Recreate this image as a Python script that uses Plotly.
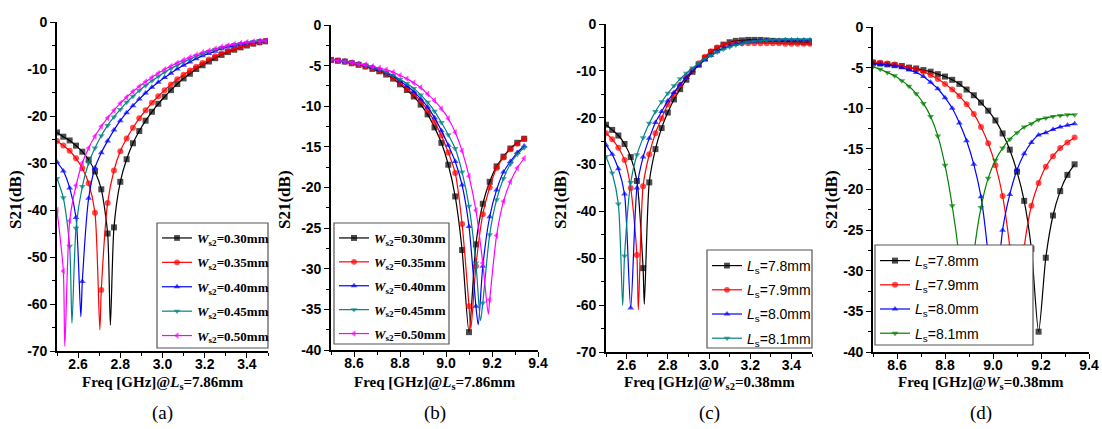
import plotly.graph_objects as go

W, H = 1102, 429

# ---------------- data ----------------
# (a) S21 vs freq for several Ws2 (Ls = 7.86 mm)
freq_a = [2.50, 2.53, 2.56, 2.59, 2.62, 2.65, 2.68, 2.71, 2.74, 2.77,
          2.80, 2.83, 2.86, 2.89, 2.92, 2.95, 2.98, 3.01, 3.04, 3.07,
          3.10, 3.13, 3.16, 3.19, 3.22, 3.25, 3.28, 3.31, 3.34, 3.37,
          3.40, 3.43, 3.46, 3.49]
a_ws030 = [-23.5, -24.4, -25.2, -26.3, -27.6, -29.3, -31.8, -35.6, -45.0, -43.7,
           -34.0, -29.2, -25.8, -23.2, -21.0, -19.1, -17.4, -15.9, -14.5, -13.2,
           -12.0, -11.0, -10.0, -9.2, -8.4, -7.7, -7.0, -6.4, -5.9, -5.4,
           -5.0, -4.6, -4.3, -4.1]
a_ws035 = [-25.3, -26.3, -27.4, -29.0, -31.1, -34.3, -40.6, -57.0, -38.5, -31.6,
           -27.5, -24.8, -22.5, -20.5, -18.8, -17.2, -15.8, -14.5, -13.3, -12.2,
           -11.2, -10.3, -9.5, -8.7, -8.0, -7.3, -6.7, -6.2, -5.7, -5.3,
           -4.9, -4.6, -4.3, -4.1]
a_ws040 = [-29.8, -31.7, -35.3, -41.6, -55.2, -37.5, -31.0, -27.8, -25.3, -23.0,
           -21.0, -19.3, -17.8, -16.4, -15.1, -13.9, -12.8, -11.8, -10.9, -10.0,
           -9.2, -8.5, -7.8, -7.2, -6.7, -6.2, -5.7, -5.3, -5.0, -4.7,
           -4.5, -4.3, -4.1, -4.0]
a_ws045 = [-33.3, -37.4, -47.7, -43.9, -35.0, -30.0, -26.8, -24.2, -22.0, -20.2,
           -18.6, -17.1, -15.8, -14.6, -13.5, -12.5, -11.6, -10.7, -9.9, -9.2,
           -8.5, -7.9, -7.3, -6.8, -6.3, -5.9, -5.5, -5.1, -4.8, -4.6,
           -4.4, -4.2, -4.1, -4.0]
a_ws050 = [-40.0, -53.0, -42.3, -34.8, -30.0, -26.8, -24.3, -22.2, -20.4, -18.8,
           -17.3, -16.0, -14.8, -13.7, -12.7, -11.8, -10.9, -10.1, -9.4, -8.7,
           -8.1, -7.5, -7.0, -6.5, -6.1, -5.7, -5.3, -5.0, -4.7, -4.5,
           -4.3, -4.2, -4.1, -4.0]
a_dip_freq = [2.753, 2.703, 2.613, 2.571, 2.537]
a_dip_val = [-64.5, -65.5, -62.7, -64.1, -69.0]
a_names = ["0.30", "0.35", "0.40", "0.45", "0.50"]

# (b) upper band, several Ws2 (Ls = 7.86 mm)
freq_b = [8.50, 8.53, 8.56, 8.59, 8.62, 8.65, 8.68, 8.71, 8.74, 8.77,
          8.80, 8.83, 8.86, 8.89, 8.92, 8.95, 8.98, 9.01, 9.04, 9.07,
          9.10, 9.13, 9.16, 9.19, 9.22, 9.25, 9.28, 9.31, 9.34]
b_ws030 = [-4.3, -4.4, -4.5, -4.7, -4.9, -5.1, -5.4, -5.7, -6.1, -6.6,
           -7.3, -8.0, -8.8, -9.8, -11.0, -12.6, -14.5, -17.2, -21.1, -27.7,
           -37.8, -27.0, -22.0, -19.3, -17.4, -16.2, -15.2, -14.5, -14.0]
b_ws035 = [-4.3, -4.4, -4.5, -4.7, -4.9, -5.1, -5.3, -5.6, -6.0, -6.5,
           -7.1, -7.8, -8.5, -9.4, -10.5, -11.9, -13.6, -15.7, -18.2, -24.5,
           -34.6, -29.7, -23.3, -20.0, -17.6, -16.3, -15.3, -14.6, -14.0]
b_ws040 = [-4.3, -4.4, -4.5, -4.6, -4.8, -5.0, -5.2, -5.5, -5.9, -6.3,
           -6.9, -7.5, -8.2, -9.1, -10.1, -11.4, -13.0, -14.8, -16.8, -19.7,
           -24.8, -34.6, -29.7, -23.6, -20.3, -18.1, -16.8, -15.7, -14.9]
b_ws045 = [-4.3, -4.4, -4.5, -4.6, -4.8, -5.0, -5.2, -5.4, -5.8, -6.2,
           -6.7, -7.2, -7.8, -8.6, -9.5, -10.6, -12.0, -13.5, -15.2, -18.1,
           -22.3, -29.3, -34.2, -25.8, -21.5, -18.9, -17.1, -15.9, -15.1]
b_ws050 = [-4.3, -4.4, -4.5, -4.6, -4.8, -4.9, -5.1, -5.3, -5.5, -5.8,
           -6.2, -6.6, -7.1, -7.7, -8.5, -9.3, -10.3, -11.5, -13.2, -15.5,
           -18.6, -22.8, -29.3, -33.8, -25.9, -21.7, -19.3, -17.6, -16.4]
b_dip_freq = [None, 9.108, 9.140, 9.150, 9.184]
b_dip_val = [None, -37.4, -36.9, -36.4, -35.6]
b_names = ["0.30", "0.35", "0.40", "0.45", "0.50"]

# (c) lower band, several Ls (Ws2 = 0.38 mm)
freq_c = [2.50, 2.53, 2.56, 2.59, 2.62, 2.65, 2.68, 2.71, 2.74, 2.77,
          2.80, 2.83, 2.86, 2.89, 2.92, 2.95, 2.98, 3.01, 3.04, 3.07,
          3.10, 3.13, 3.16, 3.19, 3.22, 3.25, 3.28, 3.31, 3.34, 3.37,
          3.40, 3.43, 3.46, 3.49]
c_ls78 = [-21.5, -22.6, -23.8, -25.6, -28.4, -33.5, -52.1, -33.8, -26.7, -22.2,
          -18.9, -16.1, -13.9, -11.9, -10.2, -8.7, -7.3, -6.0, -5.2, -4.4,
          -3.9, -3.6, -3.5, -3.4, -3.4, -3.4, -3.5, -3.6, -3.7, -3.7,
          -3.8, -3.8, -3.9, -3.9]
c_ls79 = [-23.3, -24.6, -26.4, -29.0, -35.0, -49.3, -34.6, -27.8, -23.3, -20.1,
          -17.2, -15.0, -13.0, -11.3, -9.8, -8.4, -7.0, -5.8, -5.0, -4.5,
          -4.2, -4.1, -4.1, -4.1, -4.1, -4.1, -4.1, -4.1, -4.1, -4.2,
          -4.2, -4.2, -4.2, -4.2]
c_ls80 = [-25.8, -27.8, -30.9, -36.3, -60.6, -35.0, -28.4, -24.4, -21.0, -18.7,
          -16.4, -14.6, -12.9, -11.4, -10.0, -8.8, -7.7, -6.7, -5.9, -5.2,
          -4.7, -4.3, -4.0, -3.8, -3.7, -3.6, -3.5, -3.5, -3.5, -3.4,
          -3.4, -3.4, -3.4, -3.4]
c_ls81 = [-28.3, -31.8, -38.4, -49.5, -33.8, -27.9, -24.3, -21.2, -18.7, -16.6,
          -14.8, -13.2, -11.7, -10.5, -9.4, -8.4, -7.4, -6.7, -6.0, -5.4,
          -4.9, -4.5, -4.2, -3.9, -3.7, -3.6, -3.5, -3.4, -3.4, -3.3,
          -3.3, -3.3, -3.3, -3.3]
c_dip_freq = [2.686, 2.657, None, 2.581]
c_dip_val = [-59.8, -61.0, None, -60.1]
c_names = ["7.8", "7.9", "8.0", "8.1"]

# (d) upper band, several Ls (Ws = 0.38 mm)
freq_d = [8.50, 8.53, 8.56, 8.59, 8.62, 8.65, 8.68, 8.71, 8.74, 8.77,
          8.80, 8.83, 8.86, 8.89, 8.92, 8.95, 8.98, 9.01, 9.04, 9.07,
          9.10, 9.13, 9.16, 9.19, 9.22, 9.25, 9.28, 9.31, 9.34]
d_ls78 = [-4.4, -4.5, -4.6, -4.7, -4.8, -5.0, -5.1, -5.3, -5.5, -5.8,
          -6.1, -6.5, -7.0, -7.7, -8.4, -9.3, -10.3, -11.5, -13.1, -15.1,
          -17.8, -21.4, -27.3, -37.5, -28.4, -23.2, -20.2, -18.2, -16.9]
d_ls79 = [-4.3, -4.4, -4.5, -4.6, -4.8, -5.0, -5.2, -5.5, -5.9, -6.4,
          -7.0, -7.7, -8.5, -9.5, -10.7, -12.3, -14.3, -17.0, -20.8, -27.1,
          -36.7, -27.1, -22.0, -19.2, -17.2, -15.9, -14.9, -14.2, -13.6]
d_ls80 = [-4.5, -4.6, -4.7, -4.8, -5.0, -5.3, -5.6, -6.1, -6.8, -7.6,
          -8.7, -10.0, -11.8, -14.0, -16.9, -20.9, -28.1, -34.4, -25.0, -20.6,
          -17.6, -15.6, -14.2, -13.3, -13.0, -12.6, -12.3, -12.1, -11.9]
d_ls81 = [-4.9, -5.2, -5.6, -6.0, -6.6, -7.3, -8.2, -9.4, -11.0, -13.4,
          -17.0, -22.0, -28.5, -38.0, -28.0, -22.2, -18.6, -16.4, -14.9, -13.8,
          -13.0, -12.3, -11.9, -11.4, -11.2, -11.0, -10.9, -10.8, -10.8]
d_dip_freq = [None, None, 9.003, None]
d_dip_val = [None, None, -36.2, None]
d_names = ["7.8", "7.9", "8.0", "8.1"]

# tick labels
xt_low = [2.6, 2.8, 3.0, 3.2, 3.4]
xt_low_lbl = ["2.6", "2.8", "3.0", "3.2", "3.4"]
xt_high = [8.6, 8.8, 9.0, 9.2, 9.4]
xt_high_lbl = ["8.6", "8.8", "9.0", "9.2", "9.4"]
yt_70 = [0, -10, -20, -30, -40, -50, -60, -70]
yt_70_lbl = ["0", "-10", "-20", "-30", "-40", "-50", "-60", "-70"]
yt_40 = [0, -5, -10, -15, -20, -25, -30, -35, -40]
yt_40_lbl = ["0", "-5", "-10", "-15", "-20", "-25", "-30", "-35", "-40"]

# ---------------- styling ----------------
SERIF = "Liberation Serif"
SANS = "Liberation Sans"
COL5 = ["#000000", "#ff0000", "#0000ff", "#008080", "#ff00ff"]
SYM5 = ["square", "circle", "triangle-up", "triangle-down", "triangle-left"]
COL_D = ["#000000", "#ff0000", "#0000ff", "#008000"]

fig = go.Figure()


def add_series(idx, name, freqs, vals, dip_f, dip_v, color, symbol, msize, group):
    pts = [(f, v, True) for f, v in zip(freqs, vals)]
    if dip_f is not None:
        pts.append((dip_f, dip_v, False))
    pts.sort(key=lambda t: t[0])
    sfx = "" if idx == 1 else str(idx)
    fig.add_trace(go.Scatter(
        x=[p[0] for p in pts], y=[p[1] for p in pts],
        mode="lines+markers", name=name,
        line=dict(color=color, width=1.2, shape="spline", smoothing=0.7),
        marker=dict(color=color, symbol=symbol,
                    size=[msize if p[2] else 0 for p in pts],
                    line=dict(width=0)),
        xaxis="x" + sfx, yaxis="y" + sfx,
        legend="legend" + sfx, legendgroup=group,
    ))


series_a = [a_ws030, a_ws035, a_ws040, a_ws045, a_ws050]
for i in range(5):
    add_series(1, "<i>W</i><sub>s2</sub>=" + a_names[i] + "mm", freq_a, series_a[i],
               a_dip_freq[i], a_dip_val[i], COL5[i], SYM5[i], 6, "a%d" % i)
series_b = [b_ws030, b_ws035, b_ws040, b_ws045, b_ws050]
for i in range(5):
    add_series(2, "<i>W</i><sub>s2</sub>=" + b_names[i] + "mm", freq_b, series_b[i],
               b_dip_freq[i], b_dip_val[i], COL5[i], SYM5[i], 6, "b%d" % i)
series_c = [c_ls78, c_ls79, c_ls80, c_ls81]
for i in range(4):
    add_series(3, "<i>L</i><sub>s</sub>=" + c_names[i] + "mm", freq_c, series_c[i],
               c_dip_freq[i], c_dip_val[i], COL5[i], SYM5[i], 6, "c%d" % i)
series_d = [d_ls78, d_ls79, d_ls80, d_ls81]
for i in range(4):
    add_series(4, "<i>L</i><sub>s</sub>=" + d_names[i] + "mm", freq_d, series_d[i],
               d_dip_freq[i], d_dip_val[i], COL_D[i], SYM5[i], 6, "d%d" % i)

# panel geometry in pixels: (left, right, top, bottom)
panels = [
    dict(box=(57, 268, 22, 351), xr=[2.5, 3.5], yr=[-70, 0], xt=xt_low, xtl=xt_low_lbl,
         yt=yt_70, ytl=yt_70_lbl, ymin=5,
         leg=(157, 268, 223, 348), legfont=(SERIF, 13, "bold"), gap=4.5,
         ytx=15, xtitle="Freq [GHz]@<i>L</i><sub>s</sub>=7.86mm", lab="(a)"),
    dict(box=(331, 538, 25, 350), xr=[8.5, 9.4], yr=[-40, 0], xt=xt_high, xtl=xt_high_lbl,
         yt=yt_40, ytl=yt_40_lbl, ymin=2.5,
         leg=(334, 449, 223, 344), legfont=(SERIF, 13, "bold"), gap=4,
         ytx=284, xtitle="Freq [GHz]@<i>L</i><sub>s</sub>=7.86mm", lab="(b)"),
    dict(box=(606, 812, 24, 352), xr=[2.5, 3.5], yr=[-70, 0], xt=xt_low, xtl=xt_low_lbl,
         yt=yt_70, ytl=yt_70_lbl, ymin=5,
         leg=(707, 812, 250, 348), legfont=(SANS, 14, "normal"), gap=3,
         ytx=560, xtitle="Freq [GHz]@<i>W</i><sub>s2</sub>=0.38mm", lab="(c)"),
    dict(box=(873, 1089, 27, 352), xr=[8.5, 9.4], yr=[-40, 0], xt=xt_high, xtl=xt_high_lbl,
         yt=yt_40, ytl=yt_40_lbl, ymin=2.5,
         leg=(875, 1033, 245, 345), legfont=(SANS, 14, "normal"), gap=3,
         ytx=831, xtitle="Freq [GHz]@<i>W</i><sub>s</sub>=0.38mm", lab="(d)"),
]

tickfont = dict(family=SANS, size=14, color="black", weight="bold")
layout = dict(
    width=W, height=H,
    margin=dict(l=0, r=0, t=0, b=0, autoexpand=False),
    paper_bgcolor="white", plot_bgcolor="white",
    showlegend=True,
)
shapes = []
annotations = []
for i, p in enumerate(panels, 1):
    sfx = "" if i == 1 else str(i)
    x0, x1, y0, y1 = p["box"]
    layout["xaxis" + sfx] = dict(
        domain=[x0 / W, x1 / W], range=p["xr"], anchor="y" + sfx,
        tickmode="array", tickvals=p["xt"], ticktext=p["xtl"],
        ticks="outside", ticklen=5, tickwidth=1.3, tickcolor="black",
        ticklabelstandoff=-6,
        showline=True, linecolor="black", linewidth=1.6,
        showgrid=False, zeroline=False, tickfont=tickfont,
        minor=dict(ticks="outside", ticklen=3, tickwidth=1.2, tickcolor="black",
                   tick0=p["xr"][0], dtick=0.1, showgrid=False),
        fixedrange=True,
    )
    layout["yaxis" + sfx] = dict(
        domain=[1 - y1 / H, 1 - y0 / H], range=p["yr"], anchor="x" + sfx,
        tickmode="array", tickvals=p["yt"], ticktext=p["ytl"],
        ticks="outside", ticklen=5, tickwidth=1.3, tickcolor="black",
        showline=True, linecolor="black", linewidth=1.6,
        showgrid=False, zeroline=False, tickfont=tickfont,
        minor=dict(ticks="outside", ticklen=3, tickwidth=1.2, tickcolor="black",
                   tick0=0, dtick=p["ymin"], showgrid=False),
        fixedrange=True,
    )
    lx0, lx1, ly0, ly1 = p["leg"]
    fam, fs, fw = p["legfont"]
    layout["legend" + sfx] = dict(
        x=lx0 / W, y=1 - ly0 / H, xanchor="left", yanchor="top",
        bgcolor="rgba(0,0,0,0)", borderwidth=0,
        font=dict(family=fam, size=fs, color="black", weight=fw),
        tracegroupgap=p["gap"], itemclick=False, itemdoubleclick=False,
    )
    shapes.append(dict(type="rect", xref="paper", yref="paper",
                       x0=lx0 / W, x1=lx1 / W, y0=1 - ly1 / H, y1=1 - ly0 / H,
                       fillcolor="white", line=dict(color="#555555", width=1.2),
                       layer="above"))
    cx = (x0 + x1) / 2
    annotations.append(dict(text="S21(dB)", xref="paper", yref="paper",
                            x=p["ytx"] / W, y=1 - 200 / H, textangle=-90,
                            showarrow=False, xanchor="center", yanchor="middle",
                            font=dict(family=SERIF, size=17, color="black", weight="bold")))
    annotations.append(dict(text=p["xtitle"], xref="paper", yref="paper",
                            x=cx / W, y=1 - 383 / H, showarrow=False,
                            xanchor="center", yanchor="middle",
                            font=dict(family=SERIF, size=15, color="black", weight="bold")))
    annotations.append(dict(text=p["lab"], xref="paper", yref="paper",
                            x=cx / W, y=1 - 413 / H, showarrow=False,
                            xanchor="center", yanchor="middle",
                            font=dict(family=SERIF, size=19, color="black")))

layout["shapes"] = shapes
layout["annotations"] = annotations
fig.update_layout(**layout)

fig.write_html("out.html", config={"displayModeBar": False},
               post_script="document.body.style.margin='0';document.body.style.overflow='hidden';")
